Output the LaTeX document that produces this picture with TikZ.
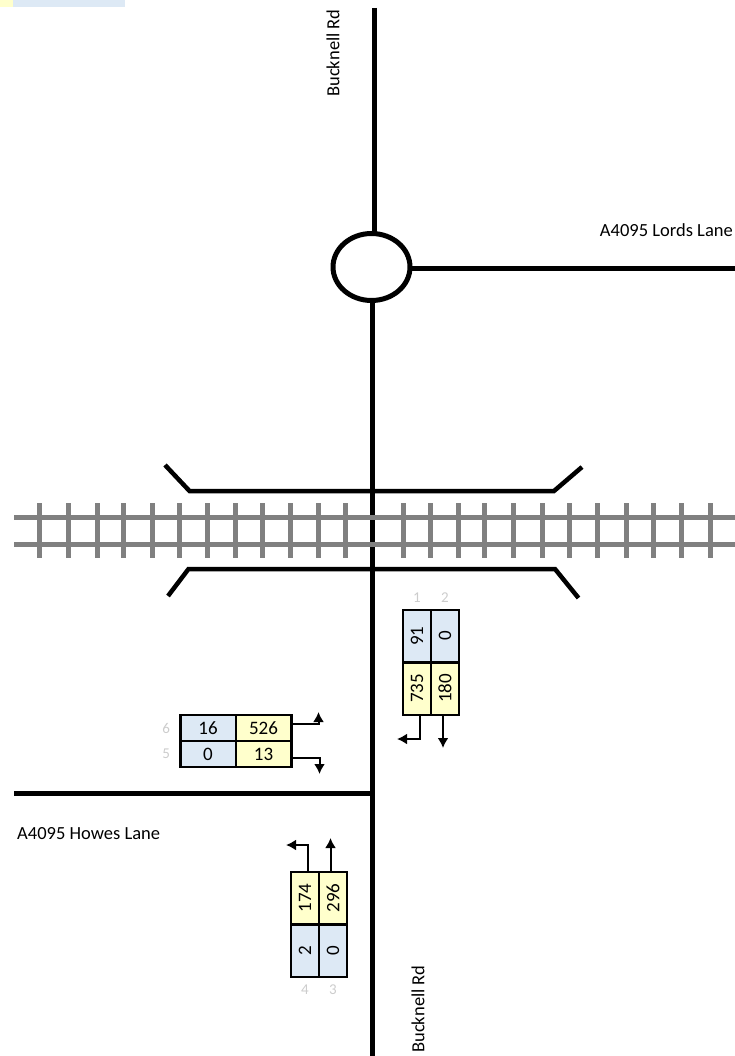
\documentclass[tikz,border=0pt]{standalone}
\usepackage{fontspec}
\setmainfont{Carlito}
\usetikzlibrary{positioning, shapes.geometric, arrows.meta}

\definecolor{cellblue}{HTML}{DDE9F5}
\definecolor{cellyellow}{HTML}{FFFFCC}
\definecolor{railgrey}{HTML}{808080}
\definecolor{armgrey}{HTML}{CCCCCC}

\begin{document}
\begin{tikzpicture}[
        x=1pt, y=-1pt,
        road/.style={draw, line width=5pt},
        bridge/.style={draw, line width=4.5pt, line join=miter},
        rail/.style={draw=railgrey, line width=5pt},
        cell/.style={draw, line width=2.5pt, inner sep=0pt, outer sep=0pt, font=\fontsize{19}{19}\selectfont},
        widecell/.style={cell, minimum width=55.5pt, minimum height=26pt},
        tallcell/.style={cell, minimum width=28pt, minimum height=52.5pt},
        turn/.style={draw, line width=2pt, -{Latex[length=10pt, width=11pt]}},
        armno/.style={text=armgrey, inner sep=0pt, font=\fontsize{15}{15}\selectfont},
        roadname/.style={inner sep=0pt, font=\fontsize{18.5}{19}\selectfont}
    ]
 \useasboundingbox (0,0) rectangle (735,1056);

 % key strip
 \fill[cellyellow] (0,0) rectangle (13,7);
 \fill[cellblue] (13,0) rectangle (125,7);

 % roads
 \node[ellipse, draw, line width=5pt, minimum width=77pt, minimum height=67pt, inner sep=0pt, outer sep=0pt] (rbt) at (371.5,267) {};
 \coordinate (northend) at (374,8);
 \coordinate (southend) at (372.5,1056);
 \coordinate (eastend) at (735,269);
 \coordinate (westend) at (14,793);
 \path[road] (northend) -- (northend |- rbt.north);
 \path[road] (rbt.south -| southend) -- (southend);
 \path[road] (rbt.east |- eastend) -- (eastend);
 \path[road] (westend) -- (westend -| southend);

 % railway
 \foreach \y in {517, 544}
    \path[rail] (14,\y) -- (735,\y);
 \foreach \x in {39,68,97,123,152,179,207,235,262,290,318,345,403,430,458,484,513,542,569,597,626,653,681,710}
    \path[rail] (\x,503) -- (\x,558);

 % bridge
 \path[bridge] (165,465) -- (189.5,491) -- (554,491) -- (582,467);
 \path[bridge] (168,596) -- (188.5,569) -- (555,569) -- (578.5,598);

 % road names
 \node[roadname, rotate=90] (nbuck) at (333,53) {Bucknell Rd};
 \node[roadname, rotate=90] (sbuck) at (418,1009) {Bucknell Rd};
 \node[roadname, anchor=east] (lords) at (733,230) {A4095 Lords Lane};
 \node[roadname, anchor=west] (howes) at (17,834) {A4095 Howes Lane};

 % arm 1 and 2
 \node[tallcell, fill=cellblue] (n91) at (417,636) {\rotatebox{90}{91}};
 \node[tallcell, fill=cellblue, right=0pt of n91] (n0a) {\rotatebox{90}{0}};
 \node[tallcell, fill=cellyellow, below=0pt of n91] (n735) {\rotatebox{90}{735}};
 \node[tallcell, fill=cellyellow, below=0pt of n0a] (n180) {\rotatebox{90}{180}};
 \node[armno, above=7pt of n91] (arm1) {1};
 \node[armno, above=7pt of n0a] (arm2) {2};
 \coordinate (tipa) at (397,739);
 \coordinate (tipb) at (443,748);
 \draw[turn] ([xshift=3pt]n735.south) |- (tipa);
 \draw[turn] (n180.south -| tipb) -- (tipb);

 % arm 5 and 6
 \node[widecell, fill=cellblue] (n16) at (208,728) {16};
 \node[widecell, fill=cellyellow, right=0pt of n16] (n526) {526};
 \node[widecell, fill=cellblue, below=0pt of n16] (n0b) {0};
 \node[widecell, fill=cellyellow, below=0pt of n526] (n13) {13};
 \node[armno, left=10pt of n16] (arm6) {6};
 \node[armno, left=10pt of n0b] (arm5) {5};
 \coordinate (tipc) at (318.5,712);
 \coordinate (tipd) at (319.5,774);
 \draw[turn] ([yshift=4.5pt]n526.east) -| (tipc);
 \draw[turn] ([yshift=-4pt]n13.east) -| (tipd);

 % arm 3 and 4
 \node[tallcell, fill=cellyellow] (n174) at (305,898) {\rotatebox{90}{174}};
 \node[tallcell, fill=cellyellow, right=0pt of n174] (n296) {\rotatebox{90}{296}};
 \node[tallcell, fill=cellblue, below=0pt of n174] (n2) {\rotatebox{90}{2}};
 \node[tallcell, fill=cellblue, below=0pt of n296] (n0c) {\rotatebox{90}{0}};
 \node[armno, below=8pt of n2] (arm4) {4};
 \node[armno, below=8pt of n0c] (arm3) {3};
 \coordinate (tipe) at (286,845);
 \coordinate (tipf) at (330.5,838);
 \draw[turn] ([xshift=3pt]n174.north) |- (tipe);
 \draw[turn] (n296.north -| tipf) -- (tipf);
\end{tikzpicture}
\end{document}
